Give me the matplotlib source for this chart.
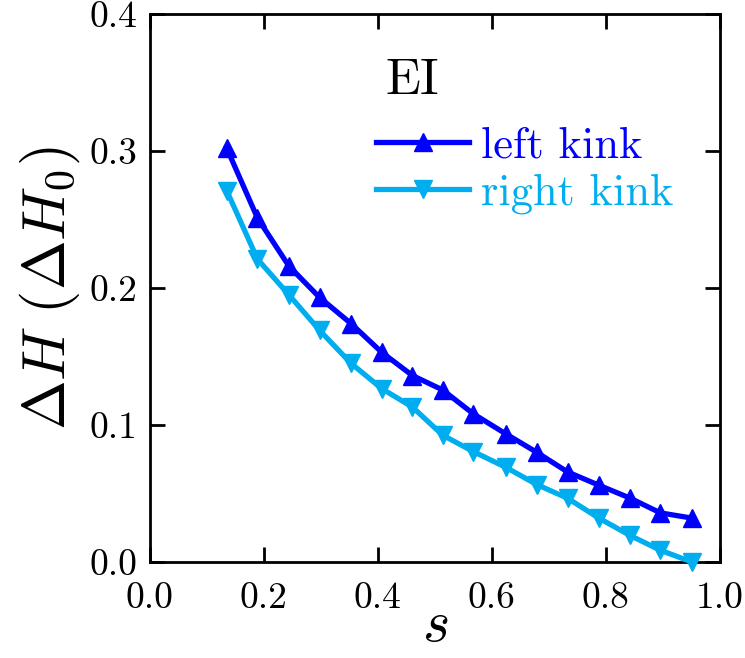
import matplotlib
matplotlib.use("Agg")
import matplotlib.pyplot as plt

# Data
s_vals = [0.135, 0.189, 0.244, 0.298, 0.353, 0.407, 0.461, 0.514,
          0.568, 0.625, 0.679, 0.733, 0.788, 0.842, 0.896, 0.951]
left_kink = [0.302, 0.251, 0.216, 0.193, 0.174, 0.153, 0.136, 0.1255,
             0.108, 0.0934, 0.080, 0.0657, 0.056, 0.0467, 0.0358, 0.032]
right_kink = [0.271, 0.221, 0.195, 0.169, 0.145, 0.1265, 0.113, 0.0925,
              0.0805, 0.069, 0.0565, 0.0465, 0.032, 0.0195, 0.0085, 0.0]
xticks = [0.0, 0.2, 0.4, 0.6, 0.8, 1.0]
yticks = [0.0, 0.1, 0.2, 0.3, 0.4]

plt.rcParams['font.family'] = ['cmr10', 'DejaVu Serif']
plt.rcParams['mathtext.fontset'] = 'cm'
plt.rcParams['axes.formatter.use_mathtext'] = True

fig = plt.figure(figsize=(7.45, 6.58), dpi=100)
ax = fig.add_axes([0.201, 0.146, 0.765, 0.833])

blue = '#0000FF'
light = '#00AEEF'
ax.plot(s_vals, left_kink, '-^', color=blue, lw=3.8, ms=13.5, mew=1,
        label='left kink', clip_on=False, zorder=3)
ax.plot(s_vals, right_kink, '-v', color=light, lw=3.8, ms=13.5, mew=1,
        label='right kink', clip_on=False, zorder=3)

ax.set_xlim(0.0, 1.0)
ax.set_ylim(0.0, 0.4)
ax.set_xticks(xticks)
ax.set_yticks(yticks)
ax.set_xticklabels([f'{v:.1f}' for v in xticks])
ax.set_yticklabels([f'{v:.1f}' for v in yticks])
ax.tick_params(direction='in', length=11, width=2, labelsize=27,
               top=True, right=True)
ax.tick_params(axis='x', pad=14)
ax.tick_params(axis='y', pad=9)
for sp in ax.spines.values():
    sp.set_linewidth(2)

ax.set_xlabel(r'$s$', fontsize=42, labelpad=-10)
ax.set_ylabel(r'$\Delta H\ (\Delta H_0)$', fontsize=43, labelpad=5)

ax.text(0.46, 0.351, 'EI', fontsize=37, ha='center', va='center')

leg = ax.legend(loc='upper left', bbox_to_anchor=(0.358, 0.835),
                frameon=False, fontsize=32, handlelength=2.1,
                handletextpad=0.27, labelspacing=0.15, borderpad=0,
                labelcolor='linecolor')

fig.savefig('out.png', dpi=100)
